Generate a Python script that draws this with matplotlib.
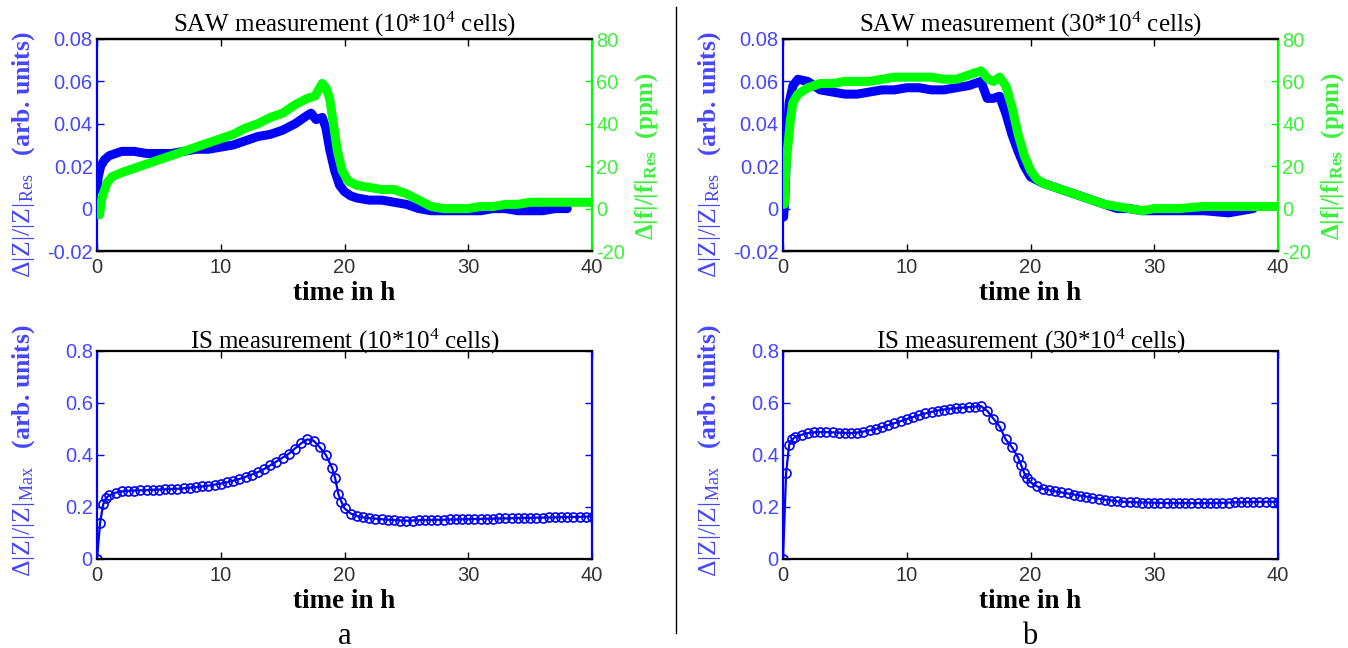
import matplotlib
matplotlib.use("Agg")
import matplotlib.pyplot as plt
from matplotlib.lines import Line2D

plt.rcParams.update({
    "font.family": "Liberation Sans",
    "mathtext.fontset": "custom",
    "mathtext.rm": "Liberation Serif",
    "mathtext.it": "Liberation Serif:italic",
    "mathtext.bf": "Liberation Serif:bold",
})

# ---- data ----
# SAW, 10*10^4 cells
saw_a_t_z = [0, 0.1, 0.3, 0.6, 1, 1.5, 2, 3, 4, 5, 6, 7, 8, 9, 10, 11, 12, 13, 14, 15, 16,
             17, 17.3, 17.7, 18.2, 18.5, 18.8, 19.2, 19.6, 20, 20.5, 21,
             22, 23, 24, 25, 26, 27, 28, 29, 30, 31, 32, 33, 34, 35, 36, 37, 38]
saw_a_z = [0.009, 0.015, 0.020, 0.023, 0.025, 0.026, 0.027, 0.027, 0.026, 0.026, 0.026, 0.027,
           0.028, 0.028, 0.029, 0.030, 0.032, 0.034, 0.035, 0.037, 0.040,
           0.044, 0.045, 0.042, 0.043, 0.038, 0.028, 0.018, 0.011, 0.008, 0.006, 0.005,
           0.004, 0.004, 0.003, 0.002, 0.000, -0.001, -0.001, -0.001, -0.001, -0.001,
           0.000, 0.000, -0.001, -0.001, -0.001, 0.000, 0.000]
saw_a_t_f = [0, 0.2, 0.4, 0.8, 1.2, 2, 3, 4, 5, 6, 7, 8, 9, 10, 11, 12, 13, 14, 15, 16, 17,
             17.6, 18.2, 18.5, 18.8, 19.1, 19.4, 19.8, 20.3,
             21, 22, 23, 24, 25, 26, 27, 28, 29, 30, 31, 32, 33, 34, 35, 36, 37, 38, 39, 40]
saw_a_f = [0, -3, 5, 12, 15, 17, 19, 21, 23, 25, 27, 29, 31, 33, 35, 38, 40, 43, 45, 49, 52,
           53, 59, 57, 52, 40, 28, 18, 13,
           11, 10, 9, 9, 7, 4, 1, 0, 0, 0, 1, 1, 2, 2, 3, 3, 3, 3, 3, 3]

# SAW, 30*10^4 cells
saw_b_t_z = [0, 0.05, 0.15, 0.3, 0.5, 0.8, 1.2, 2, 2.5, 3, 4, 5, 6, 7, 8, 9, 10, 11, 12, 13,
             14, 15, 16, 16.5, 17, 17.5, 18, 18.5, 19, 19.5, 20,
             21, 22, 23, 24, 25, 26, 27, 28, 29, 30, 32, 34, 36, 37, 38]
saw_b_z = [0.000, -0.004, 0.005, 0.030, 0.050, 0.058, 0.061, 0.060, 0.058,
           0.056, 0.055, 0.054, 0.054, 0.055, 0.056, 0.056, 0.057, 0.057, 0.056, 0.056,
           0.057, 0.058, 0.060, 0.052, 0.052, 0.053, 0.045, 0.035, 0.027, 0.020, 0.015,
           0.012, 0.010, 0.008, 0.006, 0.004, 0.002, 0.000, 0.000, -0.001, -0.001,
           -0.001, -0.001, -0.002, -0.001, 0.000]
saw_b_t_f = [0, 0.1, 0.2, 0.3, 0.4, 0.6, 0.8, 1.2, 2, 3, 4, 5, 6, 7, 8, 9, 10, 11, 12, 13,
             14, 15, 16, 16.6, 17, 17.5, 18, 18.5, 19, 19.5, 20, 20.5,
             21, 22, 23, 24, 25, 26, 27, 28, 29, 30, 32, 34, 36, 38, 40]
saw_b_f = [8, 2, 15, 25, 30, 42, 50, 54, 57, 59, 59, 60, 60, 60, 61, 62, 62, 62, 62, 61,
           61, 63, 65, 61, 60, 62, 58, 48, 35, 25, 18, 14,
           12, 10, 8, 6, 4, 2, 1, 0, -1, 0, 0, 1, 1, 1, 1]

# IS, both cell densities share the time grid
is_t = [0, 0.25, 0.5, 0.75, 1, 1.5, 2, 2.5, 3, 3.5, 4, 4.5, 5, 5.5, 6, 6.5, 7, 7.5, 8, 8.5,
        9, 9.5, 10, 10.5, 11, 11.5, 12, 12.5, 13, 13.5, 14, 14.5, 15, 15.5, 16, 16.5, 17,
        17.5, 18, 18.5, 19, 19.25, 19.5, 19.75, 20, 20.5, 21, 21.5, 22, 22.5, 23, 23.5,
        24, 24.5, 25, 25.5, 26, 26.5, 27, 27.5, 28, 28.5, 29, 29.5, 30, 30.5, 31, 31.5,
        32, 32.5, 33, 33.5, 34, 34.5, 35, 35.5, 36, 36.5, 37, 37.5, 38, 38.5, 39, 39.5, 40]
is_a = [0, 0.14, 0.21, 0.235,
        0.245, 0.255, 0.26, 0.262, 0.263, 0.264, 0.265, 0.266, 0.267, 0.268, 0.269, 0.27,
        0.272, 0.274, 0.276, 0.279, 0.282, 0.286, 0.29, 0.295, 0.301, 0.308, 0.316, 0.325,
        0.334, 0.346, 0.36, 0.375, 0.39, 0.405, 0.425, 0.445, 0.46, 0.455, 0.43, 0.40, 0.35,
        0.31, 0.25, 0.22,
        0.195, 0.175, 0.165, 0.16, 0.157, 0.155, 0.153, 0.151, 0.15, 0.148, 0.147, 0.148,
        0.149, 0.15, 0.15, 0.151, 0.151, 0.152, 0.152, 0.153, 0.153, 0.154, 0.154, 0.155,
        0.155, 0.156, 0.156, 0.157, 0.157, 0.158, 0.158, 0.159, 0.159, 0.16, 0.16, 0.161,
        0.161, 0.162, 0.162, 0.163, 0.163]
is_b = [0, 0.33, 0.44, 0.46,
        0.47, 0.478, 0.484, 0.487, 0.488, 0.488, 0.487, 0.486, 0.485, 0.484, 0.486, 0.49,
        0.495, 0.5, 0.507, 0.515, 0.522, 0.53, 0.538, 0.546, 0.553, 0.56, 0.566, 0.571,
        0.575, 0.578, 0.58, 0.582, 0.584, 0.586, 0.588, 0.57, 0.54, 0.51, 0.46, 0.43, 0.39,
        0.36, 0.33, 0.31,
        0.295, 0.28, 0.27, 0.265, 0.26, 0.256, 0.252, 0.248, 0.244, 0.24, 0.236, 0.232,
        0.228, 0.225, 0.222, 0.22, 0.219, 0.218, 0.217, 0.217, 0.216, 0.216, 0.215, 0.215,
        0.215, 0.215, 0.215, 0.215, 0.215, 0.215, 0.215, 0.216, 0.217, 0.218, 0.218, 0.219,
        0.219, 0.22, 0.22, 0.22, 0.22]

x_ticks = [0, 10, 20, 30, 40]
x_labels = ["0", "10", "20", "30", "40"]
z_ticks = [-0.02, 0, 0.02, 0.04, 0.06, 0.08]
z_labels = ["-0.02", "0", "0.02", "0.04", "0.06", "0.08"]
f_ticks = [-20, 0, 20, 40, 60, 80]
f_labels = ["-20", "0", "20", "40", "60", "80"]
is_ticks = [0, 0.2, 0.4, 0.6, 0.8]
is_labels = ["0", "0.2", "0.4", "0.6", "0.8"]

BLUE, LBLUE = "#0000ff", "#4646ff"
GREEN, LGREEN = "#00ff00", "#3cf03c"
SERIF = "Liberation Serif"
W, H = 1348, 648
TICK_FS = 14.5

fig = plt.figure(figsize=(W / 100, H / 100), dpi=100)


def rect(l, t, r, b):
    return [l / W, 1 - b / H, (r - l) / W, (b - t) / H]


def base_axes(r, title):
    ax = fig.add_axes(r)
    ax.set_xlim(0, 40)
    ax.set_xticks(x_ticks, x_labels)
    ax.tick_params(axis="x", direction="in", top=True, length=5, width=1,
                   labelsize=TICK_FS, labelcolor="#333333", pad=5)
    ax.set_title(title, fontfamily=SERIF, fontsize=18, pad=2)
    ax.set_xlabel("time in h", fontfamily=SERIF, fontsize=19.5, fontweight="bold", labelpad=3)
    for s in ("top", "bottom"):
        ax.spines[s].set_linewidth(1.6)
        ax.spines[s].set_color("black")
    ax.spines["left"].set_color(BLUE)
    ax.spines["left"].set_linewidth(1.6)
    return ax


def left_label(ax, sub, ypos):
    ax.set_ylabel("$\\mathrm{\\Delta|Z|/|Z|}_{\\mathrm{%s}}$   (arb. units)" % sub,
                  fontfamily=SERIF, fontsize=18.5, fontweight="bold", color=LBLUE)
    ax.yaxis.set_label_coords(-0.122, ypos)


def saw_panel(r, title, tz, z, tf, f):
    ax = base_axes(r, title)
    ax.plot(tz, z, color=BLUE, lw=6.5, solid_joinstyle="round", solid_capstyle="round")
    ax.set_ylim(-0.02, 0.08)
    ax.set_yticks(z_ticks, z_labels)
    ax2 = ax.twinx()
    ax2.plot(tf, f, color=GREEN, lw=6.5, solid_joinstyle="round", solid_capstyle="round")
    ax2.set_ylim(-20, 80)
    ax2.set_yticks(f_ticks, f_labels)
    ax.tick_params(axis="y", direction="in", left=True, right=False, length=5, width=1,
                   color=BLUE, labelcolor=LBLUE, labelsize=TICK_FS, pad=3)
    ax2.tick_params(axis="y", direction="in", right=True, left=False, length=5, width=1,
                    color=GREEN, labelcolor=LGREEN, labelsize=TICK_FS, pad=3)
    ax.spines["right"].set_visible(False)
    ax2.spines["left"].set_visible(False)
    ax2.spines["right"].set_color(GREEN)
    ax2.spines["right"].set_linewidth(1.6)
    for s in ("top", "bottom"):
        ax2.spines[s].set_linewidth(1.6)
        ax2.spines[s].set_color("black")
    left_label(ax, "Res", 0.455)
    ax2.set_ylabel("Δ|f|/|f|$_{\\mathbf{Res}}$  (ppm)", fontfamily=SERIF, fontsize=18,
                   fontweight="bold", color=LGREEN)
    ax2.yaxis.set_label_coords(1.083, 0.45)
    return ax


def is_panel(r, title, t, v):
    ax = base_axes(r, title)
    ax.plot(t, v, "-o", color=BLUE, lw=1.6, ms=6.5, mfc="none", mew=1.2)
    ax.set_ylim(0, 0.8)
    ax.set_yticks(is_ticks, is_labels)
    ax.tick_params(axis="y", direction="in", left=True, right=True, length=5, width=1,
                   color=BLUE, labelcolor=LBLUE, labelsize=TICK_FS, pad=3)
    ax.spines["right"].set_color(BLUE)
    ax.spines["right"].set_linewidth(1.6)
    left_label(ax, "Max", 0.52)
    return ax


saw_panel(rect(97, 39, 592, 251), "SAW measurement (10*10$^{4}$ cells)",
          saw_a_t_z, saw_a_z, saw_a_t_f, saw_a_f)
saw_panel(rect(783, 39, 1278, 251), "SAW measurement (30*10$^{4}$ cells)",
          saw_b_t_z, saw_b_z, saw_b_t_f, saw_b_f)
is_panel(rect(97, 351, 592, 559), "IS measurement (10*10$^{4}$ cells)", is_t, is_a)
is_panel(rect(783, 351, 1278, 559), "IS measurement (30*10$^{4}$ cells)", is_t, is_b)

# divider between the two columns and the a / b captions
fig.add_artist(Line2D([676 / W, 676 / W], [1 - 7 / H, 1 - 633 / H], color="black", lw=1))
fig.text(345 / W, 1 - 636 / H, "a", ha="center", va="center", fontfamily=SERIF, fontsize=22)
fig.text(1030 / W, 1 - 636 / H, "b", ha="center", va="center", fontfamily=SERIF, fontsize=22)

fig.savefig("out.png", dpi=100)
